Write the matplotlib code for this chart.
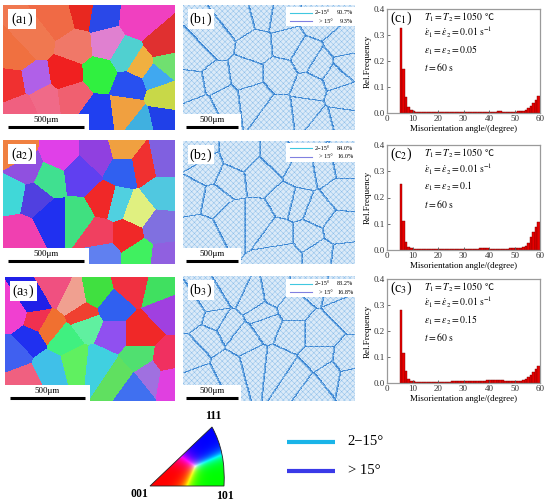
import numpy as np
import matplotlib
matplotlib.use('Agg')
import matplotlib.pyplot as plt
from matplotlib.patches import Rectangle, PathPatch
from matplotlib.path import Path
from matplotlib.colors import to_rgb

plt.rcParams['font.family'] = ['Liberation Serif', 'DejaVu Serif', 'Noto Sans CJK SC']
plt.rcParams['mathtext.fontset'] = 'stix'
plt.rcParams['hatch.linewidth'] = 0.35

# ---------------- data ----------------
# EBSD grain seeds (normalized x, y from top-left) and IPF colours
a1_x = [0.18, 0.33, 0.47, 0.56, 0.80, 0.60, 0.43, 0.93, 0.72, 0.80, 0.95, 0.56, 0.37, 0.18, 0.06,
        0.74, 0.89, 0.93, 0.24, 0.41, 0.55, 0.72, 0.91, 0.82, 0.08, 0.12]
a1_y = [0.28, 0.12, 0.07, 0.09, 0.12, 0.31, 0.33, 0.33, 0.41, 0.48, 0.47, 0.55, 0.56, 0.60, 0.63,
        0.65, 0.57, 0.73, 0.76, 0.73, 0.87, 0.84, 0.92, 0.95, 0.41, 0.84]
a1_c = ['#f07850', '#f06a45', '#e82820', '#2a48e8', '#f040c0', '#e080d0', '#f07868', '#e03030',
        '#50d0d0', '#f0b040', '#70e070', '#30f040', '#f02020', '#b060e8', '#f03030', '#2850f0',
        '#40a8f0', '#c8d848', '#f06a88', '#f06070', '#2040f0', '#f0a040', '#2040e8', '#40b0e0',
        '#f07040', '#f06080']

a2_x = [0.08, 0.14, 0.33, 0.27, 0.45, 0.60, 0.56, 0.70, 0.70, 0.82, 0.93, 0.06, 0.10, 0.29, 0.43,
        0.66, 0.78, 0.56, 0.72, 0.91, 0.93, 0.58, 0.80, 0.93, 0.18]
a2_y = [0.09, 0.23, 0.12, 0.31, 0.28, 0.50, 0.12, 0.07, 0.23, 0.20, 0.17, 0.44, 0.76, 0.63, 0.63,
        0.52, 0.58, 0.76, 0.76, 0.71, 0.42, 0.93, 0.93, 0.95, 0.47]
a2_c = ['#f08040', '#9050e0', '#e040e8', '#40e090', '#6040f0', '#f02828', '#9040e0', '#f0a040',
        '#3060f0', '#f03030', '#8060e0', '#40d8d8', '#f040b0', '#2030f0', '#40e080', '#50d0e0',
        '#e0f080', '#f04060', '#f02828', '#8070e0', '#50c8e0', '#6080f0', '#40f060', '#9060e0',
        '#5040e0']

a3_x = [0.17, 0.05, 0.29, 0.41, 0.53, 0.63, 0.75, 0.91, 0.47, 0.95, 0.79, 0.19, 0.15, 0.35, 0.49,
        0.63, 0.27, 0.05, 0.55, 0.41, 0.11, 0.85, 0.79, 0.75, 0.95, 0.25, 0.97, 0.67]
a3_y = [0.19, 0.30, 0.09, 0.17, 0.14, 0.25, 0.06, 0.11, 0.30, 0.25, 0.46, 0.36, 0.49, 0.52, 0.38,
        0.46, 0.73, 0.62, 0.70, 0.68, 0.84, 0.78, 0.65, 0.89, 0.68, 0.41, 0.81, 0.81]
a3_c = ['#2020e8', '#f040d0', '#f05080', '#f0a090', '#40e040', '#3060f0', '#f03040', '#40e060',
        '#f04030', '#a040e0', '#f02828', '#f03050', '#2030f0', '#40f080', '#60f0a0', '#9050f0',
        '#40c0e8', '#4060f0', '#40d0e0', '#60f060', '#f06080', '#a070e0', '#50e070', '#4070f0',
        '#f03060', '#f07030', '#e040e0', '#60e060']

# boundary fractions shown in the b maps
lagb_frac = ['90.7%', '84.0%', '83.2%']
hagb_frac = ['9.3%', '16.0%', '16.8%']

# histograms: 1-degree bins from 5 to 60 degrees
bin_left = list(range(5, 60))
c1_freq = [0.325, 0.168, 0.062, 0.022, 0.012, 0.007, 0.005, 0.004, 0.004, 0.003,
           0.003, 0.003, 0.003, 0.003, 0.003, 0.003, 0.003, 0.003, 0.003, 0.003,
           0.003, 0.003, 0.003, 0.003, 0.003, 0.003, 0.003, 0.003, 0.003, 0.003,
           0.004, 0.004, 0.004, 0.004, 0.004, 0.004, 0.005, 0.005, 0.006, 0.006,
           0.005, 0.004, 0.004, 0.004, 0.005, 0.005, 0.006, 0.007, 0.009, 0.013,
           0.018, 0.026, 0.037, 0.050, 0.064]
c2_freq = [0.250, 0.110, 0.032, 0.010, 0.006, 0.004, 0.003, 0.003, 0.003, 0.003,
           0.003, 0.003, 0.003, 0.003, 0.003, 0.003, 0.003, 0.003, 0.003, 0.003,
           0.003, 0.003, 0.003, 0.003, 0.003, 0.004, 0.004, 0.004, 0.004, 0.005,
           0.005, 0.006, 0.008, 0.008, 0.007, 0.005, 0.004, 0.004, 0.004, 0.004,
           0.004, 0.004, 0.005, 0.006, 0.008, 0.009, 0.008, 0.008, 0.011, 0.016,
           0.028, 0.048, 0.068, 0.088, 0.108]
c3_freq = [0.280, 0.115, 0.047, 0.016, 0.009, 0.006, 0.005, 0.004, 0.004, 0.004,
           0.004, 0.004, 0.004, 0.004, 0.004, 0.004, 0.005, 0.005, 0.005, 0.005,
           0.006, 0.006, 0.006, 0.007, 0.007, 0.007, 0.007, 0.008, 0.008, 0.008,
           0.008, 0.009, 0.009, 0.009, 0.010, 0.010, 0.010, 0.011, 0.011, 0.010,
           0.010, 0.009, 0.008, 0.008, 0.008, 0.008, 0.009, 0.009, 0.010, 0.014,
           0.022, 0.032, 0.043, 0.055, 0.067]
strains = ['0.05', '0.1', '0.15']
x_ticks = [0, 10, 20, 30, 40, 50, 60]
y_ticks = [0.0, 0.1, 0.2, 0.3, 0.4]

# ---------------- layout helpers ----------------
W, H = 550, 504
fig = plt.figure(figsize=(W / 100, H / 100), dpi=100)


def pax(x0, y0, x1, y1):
    return fig.add_axes([x0 / W, 1 - y1 / H, (x1 - x0) / W, (y1 - y0) / H])


def grain_labels(xs, ys, nx, ny, aspect=1.376):
    gx = (np.arange(nx) + 0.5) / nx
    gy = (np.arange(ny) + 0.5) / ny
    X, Y = np.meshgrid(gx, gy)
    d = ((X[..., None] - np.array(xs)) * aspect) ** 2 + (Y[..., None] - np.array(ys)) ** 2
    return d.argmin(-1)


def map_axes(ax):
    ax.set_xlim(0, 1)
    ax.set_ylim(1, 0)
    ax.axis('off')


def label_box(ax, txt, w):
    ax.add_patch(Rectangle((0.03, 0.81), w, 0.16, transform=ax.transAxes,
                           facecolor='white', edgecolor='none', zorder=5))
    ax.text(0.03 + w / 2, 0.885, txt, transform=ax.transAxes, ha='center', va='center',
            fontsize=10, zorder=6)


def scale_bar(ax, w, bar_x0, bar_x1):
    ax.add_patch(Rectangle((0, 0), w, 0.13, transform=ax.transAxes,
                           facecolor='white', edgecolor='none', zorder=5))
    ax.plot([bar_x0, bar_x1], [0.025, 0.025], color='black', lw=2.2,
            transform=ax.transAxes, zorder=6, solid_capstyle='butt')
    ax.text((bar_x0 + bar_x1) / 2, 0.078, '500μm', transform=ax.transAxes, ha='center',
            va='center', fontsize=6.5, zorder=6)


a_rows = [(a1_x, a1_y, a1_c), (a2_x, a2_y, a2_c), (a3_x, a3_y, a3_c)]
a_boxes = [(3, 5, 175, 130), (3, 140, 175, 264), (5, 277, 175, 401)]
b_boxes = [(183, 5, 355, 130), (183, 141, 355, 264), (183, 276, 355, 401)]
c_boxes = [(387, 9, 540, 113), (387, 145, 540, 250), (387, 279, 540, 383)]
freqs = [c1_freq, c2_freq, c3_freq]

for i in range(3):
    xs, ys, cs = a_rows[i]
    # ---- (a) IPF map
    ax = pax(*a_boxes[i])
    lab = grain_labels(xs, ys, 344, 250)
    rgb = np.array([to_rgb(c) for c in cs])[lab]
    ax.imshow(rgb, extent=[0, 1, 1, 0], aspect='auto', interpolation='nearest')
    map_axes(ax)
    label_box(ax, '(a$_{%d}$)' % (i + 1), 0.16)
    scale_bar(ax, 0.50, 0.03, 0.47)

    # ---- (b) boundary map
    ax = pax(*b_boxes[i])
    labb = grain_labels(xs, ys, 172, 124)
    edge = np.zeros(labb.shape, bool)
    edge[:, 1:] |= labb[:, 1:] != labb[:, :-1]
    edge[1:, :] |= labb[1:, :] != labb[:-1, :]
    thick = edge.copy()
    thick[:, :-1] |= edge[:, 1:]
    img = np.ones(labb.shape + (3,)) * np.array(to_rgb('#dbeaf8'))
    img[thick] = to_rgb('#6aa6df')
    img[edge] = to_rgb('#3a84d2')
    ax.imshow(img, extent=[0, 1, 1, 0], aspect='auto', interpolation='nearest')
    ax.add_patch(Rectangle((0, 0), 1, 1, transform=ax.transAxes, facecolor='none',
                           edgecolor='#8fc0ea', hatch='xxxxxx', lw=0, zorder=2))
    map_axes(ax)
    label_box(ax, '(b$_{%d}$)' % (i + 1), 0.15)
    scale_bar(ax, 0.34, 0.02, 0.32)
    # legend box
    ax.add_patch(Rectangle((0.60, 0.83), 0.40, 0.15, transform=ax.transAxes,
                           facecolor='white', edgecolor='none', zorder=5))
    ax.plot([0.62, 0.75], [0.94, 0.94], color='#40c8e0', lw=0.8, transform=ax.transAxes, zorder=6)
    ax.plot([0.62, 0.75], [0.87, 0.87], color='#8080e0', lw=0.8, transform=ax.transAxes, zorder=6)
    ax.text(0.765, 0.94, '2−15°', transform=ax.transAxes, fontsize=4.5, va='center', zorder=6)
    ax.text(0.79, 0.87, '> 15°', transform=ax.transAxes, fontsize=4.5, va='center', zorder=6)
    ax.text(0.99, 0.94, lagb_frac[i], transform=ax.transAxes, fontsize=4.5, va='center',
            ha='right', zorder=6)
    ax.text(0.99, 0.87, hagb_frac[i], transform=ax.transAxes, fontsize=4.5, va='center',
            ha='right', zorder=6)

    # ---- (c) histogram
    ax = pax(*c_boxes[i])
    ax.bar(bin_left, freqs[i], width=1, align='edge', color='#e80000',
           edgecolor='#7a0000', lw=0.3)
    ax.set_xlim(0, 60)
    ax.set_ylim(0, 0.4)
    ax.set_xticks(x_ticks)
    ax.set_yticks(y_ticks)
    ax.set_yticklabels(['%.1f' % v for v in y_ticks])
    ax.tick_params(direction='in', length=2.5, width=0.6, labelsize=6.5, pad=1.5,
                   color='#555555', labelcolor='#333333')
    for s in ax.spines.values():
        s.set_color('#9a9a9a')
        s.set_linewidth(0.9)
    ax.set_xlabel('Misorientation angle/(degree)', fontsize=6.5, labelpad=1.5)
    ax.set_ylabel('Rel.Frequency', fontsize=6.5, labelpad=1.5)
    ax.text(1, 0.363, '(c$_{%d}$)' % (i + 1), fontsize=10, va='center', ha='left')
    t1 = ax.text(14.5, 0.369, r'$T_1 = T_2 = 1050$', fontsize=7, va='center')
    ax.annotate('℃', xy=(1, 0.5), xycoords=t1, xytext=(1.5, 0), textcoords='offset points',
                fontsize=6.5, va='center', ha='left', family=['Noto Sans CJK SC', 'DejaVu Sans'])
    ax.text(14.5, 0.308, r'$\dot{\varepsilon}_1 = \dot{\varepsilon}_2 = 0.01\ \mathrm{s}^{-1}$',
            fontsize=7, va='center')
    ax.text(14.5, 0.242, r'$\varepsilon_1 = \varepsilon_2 = %s$' % strains[i], fontsize=7,
            va='center')
    ax.text(14.5, 0.177, r'$t = 60\ \mathrm{s}$', fontsize=7, va='center')

# ---------------- IPF colour key ----------------
ax = pax(125, 405, 245, 504)
ax.set_xlim(125, 245)
ax.set_ylim(504, 405)
ax.axis('off')
R = np.array([150.0, 486.0])
G = np.array([224.0, 486.0])
B = np.array([212.0, 427.0])
gx, gy = np.meshgrid(np.linspace(145, 230, 200), np.linspace(422, 490, 160))
T = np.array([[R[0] - B[0], G[0] - B[0]], [R[1] - B[1], G[1] - B[1]]])
Ti = np.linalg.inv(T)
l1 = Ti[0, 0] * (gx - B[0]) + Ti[0, 1] * (gy - B[1])
l2 = Ti[1, 0] * (gx - B[0]) + Ti[1, 1] * (gy - B[1])
l3 = 1 - l1 - l2
lam = np.clip(np.stack([l1, l2, l3], -1), 0, None) ** 3.0
lam = lam / lam.max(-1, keepdims=True)
im = ax.imshow(lam, extent=[145, 230, 490, 422], interpolation='bilinear', aspect='auto')
tri = Path([tuple(R), tuple(G), (226.0, 452.0), tuple(B), tuple(R)],
           [Path.MOVETO, Path.LINETO, Path.CURVE3, Path.CURVE3, Path.CLOSEPOLY])
pp = PathPatch(tri, facecolor='none', edgecolor='#222222', lw=0.6)
ax.add_patch(pp)
im.set_clip_path(pp)
ax.text(213, 416, '111', fontsize=8.5, fontweight='bold', ha='center', va='center')
ax.text(139, 494, '001', fontsize=8.5, fontweight='bold', ha='center', va='center')
ax.text(225, 496, '101', fontsize=8.5, fontweight='bold', ha='center', va='center')

# ---------------- boundary legend ----------------
ax = pax(270, 420, 420, 495)
ax.set_xlim(270, 420)
ax.set_ylim(495, 420)
ax.axis('off')
ax.plot([287, 335], [442, 442], color='#1ab4e8', lw=3, solid_capstyle='butt')
ax.plot([287, 335], [471, 471], color='#3a3ae8', lw=3, solid_capstyle='butt')
ax.text(347, 442, '2−15°', fontsize=10.5, va='center')
ax.text(348, 471, '> 15°', fontsize=10.5, va='center')

fig.savefig('out.png', dpi=100)
